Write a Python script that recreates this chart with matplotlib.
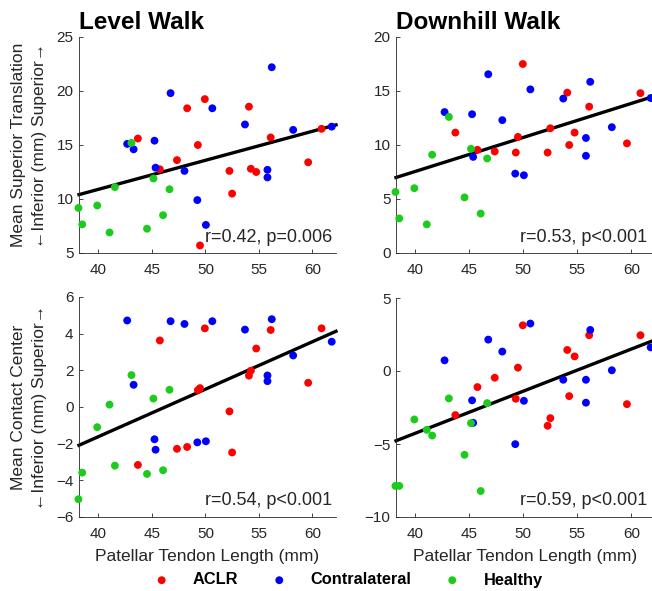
import numpy as np
import matplotlib
matplotlib.use('Agg')
import matplotlib.pyplot as plt

plt.rcParams['font.family'] = ['Liberation Sans', 'DejaVu Sans']

# Patellar tendon length (mm) - same limbs in every panel
x_aclr = np.array([43.7, 45.75, 47.35, 48.3, 49.3, 49.5, 49.95, 52.25, 52.5,
                   54.07, 54.25, 54.75, 56.1, 59.6, 60.85])
x_contra = np.array([42.7, 43.3, 45.25, 45.35, 46.75, 48.05, 49.25, 50.05, 50.65,
                     53.7, 55.8, 55.8, 56.2, 58.2, 61.8])
x_healthy = np.array([38.15, 38.5, 39.9, 41.05, 41.55, 43.1, 44.55, 45.15, 46.05, 46.65])

# Mean superior translation (mm)
level_trans_aclr = [15.6, 12.75, 13.6, 18.4, 15.0, 5.7, 19.25, 12.6, 10.5,
                    18.55, 12.8, 12.5, 15.7, 13.4, 16.5]
level_trans_contra = [15.1, 14.6, 15.4, 12.9, 19.8, 12.6, 9.9, 7.6, 18.4,
                      16.9, 12.7, 12.0, 22.2, 16.4, 16.7]
level_trans_healthy = [9.17, 7.65, 9.4, 6.9, 11.1, 15.2, 7.25, 11.9, 8.5, 10.9]

down_trans_aclr = [11.15, 9.55, 9.4, np.nan, 9.3, 10.75, 17.5, 9.3, 11.55,
                   14.85, 10.0, 11.15, 13.55, 10.15, 14.8]
down_trans_contra = [13.05, np.nan, 12.85, 8.9, 16.55, 12.3, 7.35, 7.2, 15.15,
                     14.3, 10.65, 9.0, 15.85, 11.65, 14.35]
down_trans_healthy = [5.65, 3.2, 6.0, 2.65, 9.1, 12.6, 5.15, 9.65, 3.65, 8.75]

# Mean contact center (mm)
level_cc_aclr = [-3.16, 3.63, -2.28, -2.18, 0.92, 1.03, 4.29, -0.24, -2.48,
                 1.71, 1.98, 3.19, 4.2, 1.32, 4.29]
level_cc_contra = [4.72, 1.21, -1.76, -2.33, 4.68, 4.53, -1.93, -1.87, 4.68,
                   4.22, 1.72, 1.41, 4.79, 2.81, 3.56]
level_cc_healthy = [-5.03, -3.58, -1.1, 0.13, -3.2, 1.74, -3.65, 0.46, -3.45, 0.94]

down_cc_aclr = [-3.02, -1.1, -0.46, np.nan, -1.9, 0.23, 3.13, -3.75, -3.23,
                1.44, -1.72, 1.0, 2.45, -2.27, 2.45]
down_cc_contra = [0.73, np.nan, -2.01, -3.55, 2.15, 1.33, -5.01, -2.04, 3.25,
                  -0.6, -0.6, -2.17, 2.81, 0.05, 1.62]
down_cc_healthy = [-7.87, -7.87, -3.32, -4.03, -4.42, -1.88, -5.74, -3.57, -8.22, -2.2]

stats = ['r=0.42, p=0.006', 'r=0.53, p<0.001', 'r=0.54, p<0.001', 'r=0.59, p<0.001']
titles = ['Level Walk', 'Downhill Walk']
groups = ['ACLR', 'Contralateral', 'Healthy']
colors = ['#ff0000', '#0000ff', '#1ccc1c']

W, H = 652, 591
fig = plt.figure(figsize=(W / 100, H / 100), dpi=100)


def px_axes(left, top, right, bottom):
    return fig.add_axes([left / W, 1 - bottom / H, (right - left) / W, (bottom - top) / H])


axes = [px_axes(79, 37, 336, 253), px_axes(396, 37, 655, 253),
        px_axes(79, 297, 336, 517), px_axes(396, 298, 655, 517)]

panels = [
    (level_trans_aclr, level_trans_contra, level_trans_healthy, (5, 25), np.arange(5, 26, 5)),
    (down_trans_aclr, down_trans_contra, down_trans_healthy, (0, 20), np.arange(0, 21, 5)),
    (level_cc_aclr, level_cc_contra, level_cc_healthy, (-6, 6), np.arange(-6, 7, 2)),
    (down_cc_aclr, down_cc_contra, down_cc_healthy, (-10, 5), np.arange(-10, 6, 5)),
]
xs = [x_aclr, x_contra, x_healthy]
xlim = (38.2, 62.2)

for i, (ax, (ya, yc, yh, ylim, yticks)) in enumerate(zip(axes, panels)):
    ys = [np.asarray(ya, float), np.asarray(yc, float), np.asarray(yh, float)]

    # regression over all limbs
    allx = np.concatenate(xs)
    ally = np.concatenate(ys)
    ok = ~np.isnan(ally)
    slope, icpt = np.polyfit(allx[ok], ally[ok], 1)
    lx = np.array(xlim)
    ax.plot(lx, slope * lx + icpt, color='black', lw=2.4, zorder=2, clip_on=False)

    for x, y, c, g in zip(xs, ys, colors, groups):
        ax.scatter(x, y, s=32, color=c, edgecolors='none', zorder=3, clip_on=False, label=g)

    ax.set_xlim(xlim)
    ax.set_ylim(ylim)
    ax.set_xticks([40, 45, 50, 55, 60])
    ax.set_yticks(yticks)
    for side in ['top', 'right']:
        ax.spines[side].set_visible(False)
    for side in ['left', 'bottom']:
        ax.spines[side].set_color('#262626')
        ax.spines[side].set_linewidth(0.6)
    ax.tick_params(direction='in', length=3, width=0.6, colors='#262626',
                   labelsize=11, pad=4)
    ax.tick_params(axis='x', pad=7)

    right = 0.985 if i % 2 == 0 else 0.97
    ax.text(right, 0.053, stats[i], transform=ax.transAxes, ha='right',
            va='baseline', fontsize=13, color='#262626', zorder=4)

    if i < 2:
        ax.set_title(titles[i], loc='left', fontsize=17.5, fontweight='bold', pad=6)
    else:
        ax.set_xlabel('Patellar Tendon Length (mm)', fontsize=12.5, color='#262626',
                      labelpad=6)

# two-line y labels, placed in pixels
ylabels = [('Mean Superior Translation', 145), ('Mean Contact Center', 407)]
for text, yc in ylabels:
    fig.text(19 / W, 1 - yc / H, text, rotation=90, ha='center', va='center',
             fontsize=12.5, color='#262626')
    fig.text(40 / W, 1 - yc / H, '\u2190Inferior (mm) Superior\u2192', rotation=90,
             ha='center', va='center', fontsize=12.5, color='#262626')

handles, labels = axes[0].get_legend_handles_labels()
fig.legend(handles, labels, loc='center', bbox_to_anchor=(348 / W, 1 - 580 / H),
           ncol=3, frameon=False, prop={'weight': 'bold', 'size': 11.8},
           handlelength=1.0, handletextpad=1.4, columnspacing=2.0, scatterpoints=1)

fig.savefig('out.png', dpi=100)
